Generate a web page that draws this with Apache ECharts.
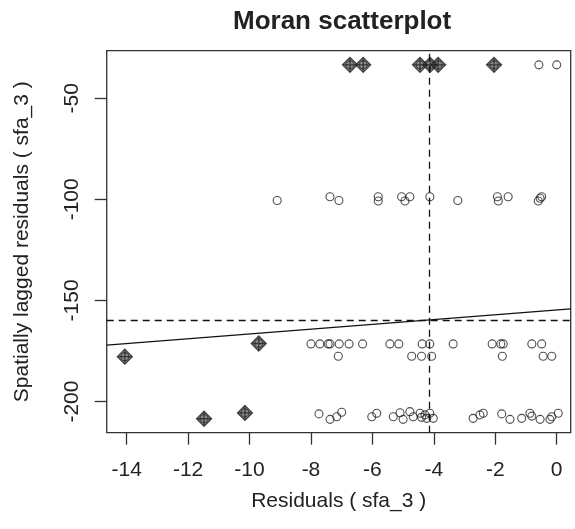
<!DOCTYPE html>
<html>
<head>
<meta charset="utf-8">
<script src="https://cdn.jsdelivr.net/npm/echarts@6/dist/echarts.min.js"></script>
<style>html,body{margin:0;padding:0;background:#fff;}#c{width:575px;height:529px;}</style>
</head>
<body>
<div id="c"></div>
<script>
// ---- data ----
const titleText = "Moran scatterplot";
const xName = "Residuals ( sfa_3 )";
const yName = "Spatially lagged residuals ( sfa_3 )";
const xTicks = [-14, -12, -10, -8, -6, -4, -2, 0];
const yTicks = [-200, -150, -100, -50];

// all observations (residual, spatially lagged residual)
const residuals = [
  -6.73, -6.30, -4.45, -4.12, -3.86, -2.04, -0.58, 0.00,
  -9.10, -7.38, -7.09, -5.81, -5.81, -5.05, -4.78, -4.94, -4.13, -3.22, -1.93, -1.58, -1.90, -0.54, -0.60, -0.49,
  -9.70, -8.00, -7.71, -7.44, -7.38, -7.08, -6.76, -6.32, -5.43, -5.14, -4.38, -4.13, -3.37, -2.10, -1.82, -1.74, -0.81, -0.49,
  -14.06, -7.11, -4.72, -4.40, -4.07, -1.77, -0.44, -0.16,
  -11.48, -10.15, -7.74, -7.38, -7.16, -7.00, -6.02, -5.86, -5.32, -5.10, -5.00, -4.78, -4.67, -4.45, -4.40, -4.29, -4.23, -4.13, -4.02,
  -2.72, -2.50, -2.39, -1.79, -1.52, -1.14, -0.87, -0.81, -0.54, -0.22, -0.16, 0.05
];
const lagged = [
  -33.5, -33.5, -33.5, -33.5, -33.5, -33.5, -33.5, -33.5,
  -100.6, -98.7, -100.6, -98.7, -100.8, -98.7, -98.7, -100.8, -98.7, -100.6, -98.7, -98.7, -100.8, -99.5, -100.8, -98.7,
  -171.3, -171.5, -171.5, -171.5, -171.5, -171.5, -171.5, -171.5, -171.5, -171.5, -171.5, -171.5, -171.5, -171.5, -171.5, -171.5, -171.5, -171.5,
  -177.8, -177.6, -177.6, -177.6, -177.6, -177.6, -177.6, -177.6,
  -208.5, -205.6, -206.1, -208.8, -207.5, -205.3, -207.5, -205.8, -207.5, -205.5, -208.8, -205.0, -207.5, -205.8, -207.8, -206.6, -208.3, -205.8, -208.3,
  -208.3, -206.6, -205.8, -206.1, -208.8, -208.3, -205.8, -207.2, -208.8, -208.8, -207.5, -205.8
];
// indices of influential observations (drawn with diamond-plus)
const influential = [0, 1, 2, 3, 4, 5, 24, 42, 50, 51];

// regression line and means
const meanResidual = -4.14;
const meanLagged = -159.6;
const slope = 1.19;

// ---- chart ----
const xMin = -14.65, xMax = 0.456, yMin = -215.4, yMax = -26.5;
const pts = residuals.map((v, i) => [v, lagged[i]]);
const inflPts = influential.map(i => pts[i]);
const lineAt = x => meanLagged + slope * (x - meanResidual);
const fitLine = [[xMin, lineAt(xMin)], [xMax, lineAt(xMax)]];

const font = "'Liberation Sans', Arial, sans-serif";
const ink = '#222';
const chart = echarts.init(document.getElementById('c'), null, {renderer: 'canvas'});
chart.setOption({
  animation: false,
  backgroundColor: '#fff',
  title: {
    text: titleText, left: 228, top: 4,
    textStyle: {fontFamily: font, fontSize: 26, fontWeight: 'bold', color: ink}
  },
  grid: {
    left: 106.7, right: 4.3, top: 50.7, bottom: 96.3,
    show: true, borderColor: '#333', borderWidth: 1.3, backgroundColor: 'transparent'
  },
  xAxis: {
    type: 'value', min: xMin, max: xMax,
    name: xName, nameLocation: 'middle', nameGap: 58,
    nameTextStyle: {fontFamily: font, fontSize: 21, color: ink},
    axisLine: {show: false, onZero: false},
    splitLine: {show: false},
    axisTick: {show: true, inside: false, length: 12, customValues: xTicks, lineStyle: {color: '#333', width: 1.3}},
    axisLabel: {customValues: xTicks, margin: 27, fontFamily: font, fontSize: 21, color: ink}
  },
  yAxis: {
    type: 'value', min: yMin, max: yMax,
    name: yName, nameLocation: 'middle', nameGap: 74, nameRotate: 90,
    nameTextStyle: {fontFamily: font, fontSize: 21, color: ink},
    axisLine: {show: false, onZero: false},
    splitLine: {show: false},
    axisTick: {show: true, inside: false, length: 12, customValues: yTicks, lineStyle: {color: '#333', width: 1.3}},
    axisLabel: {customValues: yTicks, rotate: 90, margin: 24, fontFamily: font, fontSize: 21, color: ink}
  },
  series: [
    {
      type: 'line', data: fitLine, symbol: 'none', silent: true,
      lineStyle: {color: '#111', width: 1.3},
      markLine: {
        silent: true, symbol: 'none', label: {show: false},
        lineStyle: {color: '#111', width: 1.3, type: [7, 5]},
        data: [{xAxis: meanResidual}, {yAxis: meanLagged}]
      }
    },
    {
      type: 'scatter', data: pts, symbol: 'circle', symbolSize: 8,
      itemStyle: {color: 'rgba(0,0,0,0)', borderColor: '#222', borderWidth: 1.1}
    },
    {
      type: 'scatter', data: inflPts,
      symbol: 'path://M10,0 L20,10 L10,20 L0,10 Z M10,0 L10,20 M0,10 L20,10',
      symbolSize: 15,
      itemStyle: {color: 'rgba(50,50,50,0.7)', borderColor: '#222', borderWidth: 1.3}
    }
  ]
});
</script>
</body>
</html>
